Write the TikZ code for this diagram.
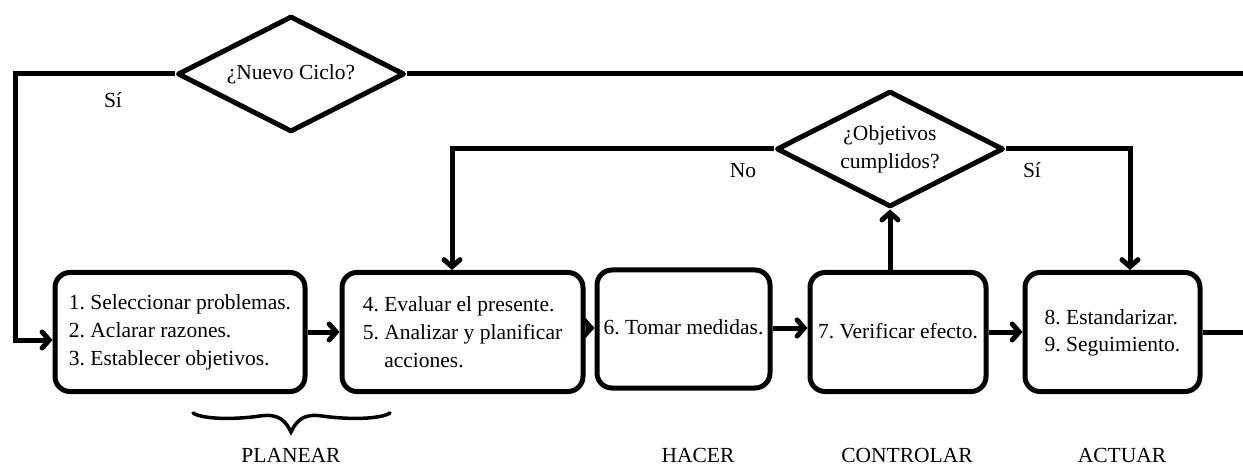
\documentclass[tikz,border=0pt]{standalone}
\usepackage{fontspec}
\setmainfont{Liberation Serif}
\frenchspacing
\usetikzlibrary{shapes.geometric,arrows.meta}
\begin{document}
\begin{tikzpicture}[x=1pt,y=-1pt,
  txt/.style={font=\fontsize{21.5}{28}\selectfont},
  stepbox/.style={txt, draw, line width=5pt, rounded corners=15pt, align=left, inner sep=0pt},
  decision/.style={txt, draw, diamond, aspect=2, line width=5pt, line join=round, inner sep=0pt, align=center,
    minimum width=227pt, minimum height=116pt},
  line/.style={line width=5pt},
  arr/.style={line, -{Straight Barb[length=7pt,width=16pt,line cap=round]}},
  lbl/.style={txt, anchor=base}]
\useasboundingbox (0,0) rectangle (1243,465);

% decisions
\node[decision] (d1) at (291,74) {\raisebox{4pt}{¿Nuevo Ciclo?}};
\node[decision] (d2) at (890,149) {¿Objetivos\\cumplidos?};

% process steps
\node[stepbox, minimum width=250pt, minimum height=119pt] (b1) at (180,332)
  {1. Seleccionar problemas.\\2. Aclarar razones.\\3. Establecer objetivos.};
\node[stepbox, minimum width=241pt, minimum height=119pt] (b2) at (462.5,332)
  {4. Evaluar el presente.\\5. Analizar y planificar\\\hphantom{5. }acciones.};
\node[stepbox, minimum width=173pt, minimum height=118pt] (b3) at (683.5,329)
  {\raisebox{3pt}{6. Tomar medidas.}};
\node[stepbox, minimum width=176pt, minimum height=119pt] (b4) at (898,332)
  {\raisebox{2pt}{7. Verificar efecto.}};
\node[stepbox, minimum width=175pt, minimum height=119pt] (b5) at (1112.5,332)
  {\raisebox{4pt}{\begin{tabular}{@{}l@{}}8. Estandarizar.\\[-1pt]9. Seguimiento.\end{tabular}}};

% free ends and bends
\coordinate (lc) at (15,340);
\coordinate (r1) at (1243,74);
\coordinate (r2) at (1243,332);

% flow between steps
\draw[arr] (b1.east) -- (b2.west);
\draw[arr] (b2.east |- 0,328) -- (b3.west |- 0,328);
\draw[arr] (b3.east |- 0,328) -- (b4.west |- 0,328);
\draw[arr] (b4.east) -- (b5.west);
\draw[line] (b5.east) -- (r2);

% loops
\draw[arr] (d1.west) -| (lc) -- (b1.west |- lc);
\draw[line] (d1.east) -- (r1);
\draw[arr] (d2.west) -| ([xshift=-10.5pt]b2.north);
\draw[arr] (d2.east) -| ([xshift=17.5pt]b5.north);
\draw[arr] (b4.north -| d2.south) -- (d2.south);

% branch labels
\node[lbl] (si1) at (113,108) {Sí};
\node[lbl] (no) at (743,178) {No};
\node[lbl] (si2) at (1032,178) {Sí};

% brace under the planning steps
\draw[line width=3.5pt, line cap=round]
  (193,413) .. controls (202,419) and (232,420) .. (260,416)
  .. controls (280,413) and (286,422) .. (291,432)
  .. controls (296,422) and (302,413) .. (322,416)
  .. controls (350,420) and (381,419) .. (390,413);

% phase names
\node[lbl] (planear) at (291,462) {PLANEAR};
\node[lbl] (hacer) at (698,462) {HACER};
\node[lbl] (controlar) at (907,462) {CONTROLAR};
\node[lbl] (actuar) at (1122,462) {ACTUAR};
\end{tikzpicture}
\end{document}
